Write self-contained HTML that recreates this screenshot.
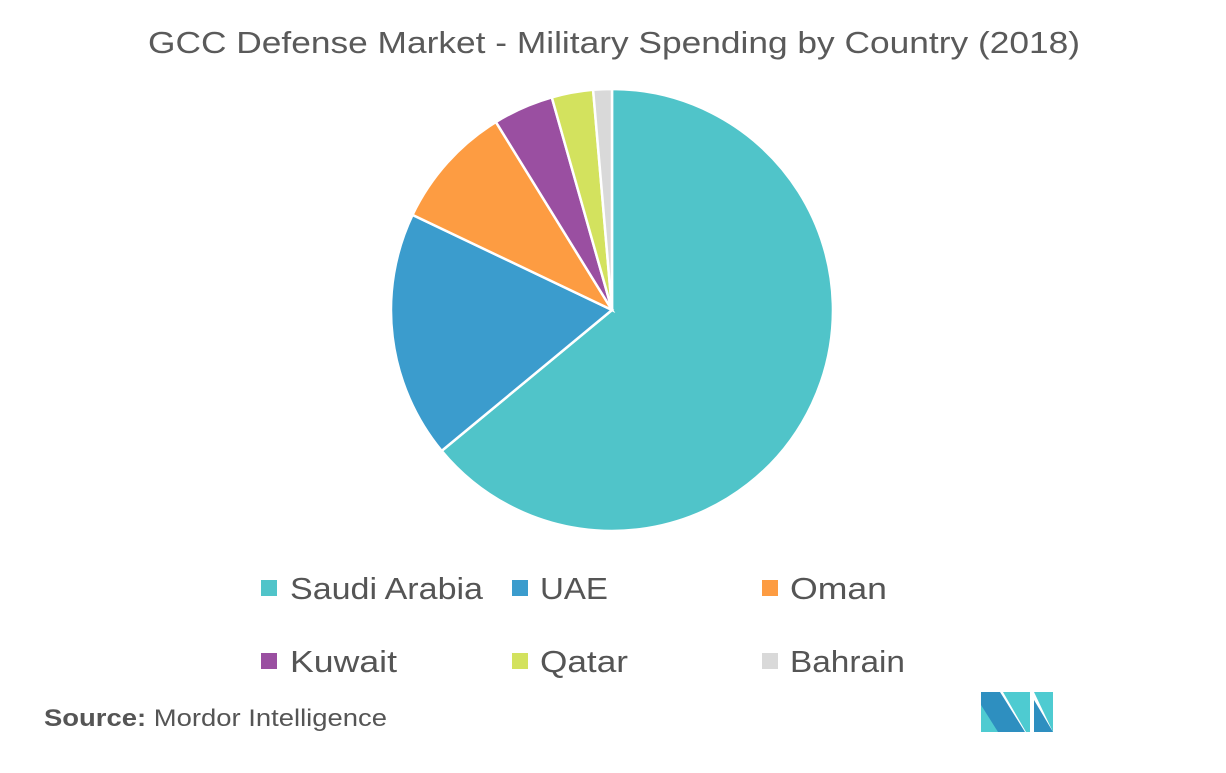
<!DOCTYPE html>
<html><head><meta charset="utf-8"><style>
body{margin:0;background:#fff;}
svg text{font-family:"Liberation Sans",sans-serif;}
</style></head><body>
<svg width="1226" height="768" viewBox="0 0 1226 768">
<text x="148" y="53" font-size="31" fill="#5a5a5a" textLength="932" lengthAdjust="spacingAndGlyphs">GCC Defense Market  - Military Spending by Country (2018)</text>
<g stroke="#fff" stroke-width="2.5">
<path d="M612,310 L612,89 A221,221 0 1,1 441.7,450.9 Z" fill="#50c4c9"/>
<path d="M612,310 L441.7,450.9 A221,221 0 0,1 412.5,214.9 Z" fill="#3b9ccd"/>
<path d="M612,310 L412.5,214.9 A221,221 0 0,1 495.9,122 Z" fill="#fd9c42"/>
<path d="M612,310 L495.9,122 A221,221 0 0,1 551.8,97.4 Z" fill="#9a4fa1"/>
<path d="M612,310 L551.8,97.4 A221,221 0 0,1 593.1,89.8 Z" fill="#d3e25e"/>
<path d="M612,310 L593.1,89.8 A221,221 0 0,1 612,89 Z" fill="#d9d9d9"/>
</g>
<g font-size="31" fill="#555">
<rect x="261" y="580" width="16" height="16" fill="#50c4c9"/><text x="290" y="599" textLength="193" lengthAdjust="spacingAndGlyphs">Saudi Arabia</text>
<rect x="512" y="580" width="16" height="16" fill="#3b9ccd"/><text x="540" y="599" textLength="68" lengthAdjust="spacingAndGlyphs">UAE</text>
<rect x="762" y="580" width="16" height="16" fill="#fd9c42"/><text x="790" y="599" textLength="97" lengthAdjust="spacingAndGlyphs">Oman</text>
<rect x="261" y="653" width="16" height="16" fill="#9a4fa1"/><text x="290" y="672" textLength="107" lengthAdjust="spacingAndGlyphs">Kuwait</text>
<rect x="512" y="653" width="16" height="16" fill="#d3e25e"/><text x="540" y="672" textLength="88" lengthAdjust="spacingAndGlyphs">Qatar</text>
<rect x="762" y="653" width="16" height="16" fill="#d9d9d9"/><text x="790" y="672" textLength="115" lengthAdjust="spacingAndGlyphs">Bahrain</text>
</g>
<text x="44" y="726" font-size="24" fill="#555" textLength="343" lengthAdjust="spacingAndGlyphs"><tspan font-weight="bold">Source:</tspan> Mordor Intelligence</text>
<g>
<polygon points="981,692 1000,692 1025,732 981,732" fill="#2e8fc0"/>
<polygon points="981,705 998,732 981,732" fill="#4ecbd1"/>
<polygon points="1003,692 1030,692 1030,732 1026,732" fill="#4ecbd1"/>
<polygon points="1034,692 1053,692 1053,732" fill="#4ecbd1"/>
<polygon points="1034,700 1053,732 1034,732" fill="#2e8fc0"/>
</g>
</svg>
</body></html>
